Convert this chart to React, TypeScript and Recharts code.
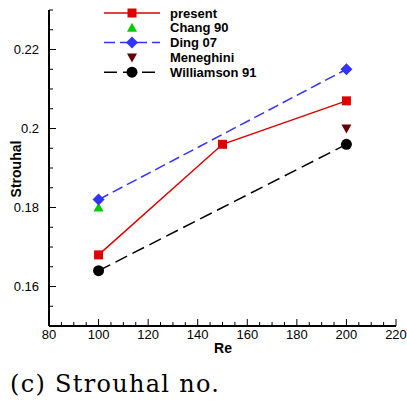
import React from "react";
import { LineChart, Line, XAxis, YAxis, Label } from "recharts";

// Strouhal number vs Reynolds number
const presentRe = [100, 150, 200];
const presentSt = [0.168, 0.196, 0.207];
const changRe = [100];
const changSt = [0.18];
const dingRe = [100, 200];
const dingSt = [0.182, 0.215];
const meneghiniRe = [200];
const meneghiniSt = [0.2];
const williamsonRe = [100, 200];
const williamsonSt = [0.164, 0.196];

const xTicks = [80, 85, 90, 95, 100, 105, 110, 115, 120, 125, 130, 135, 140, 145, 150, 155, 160, 165, 170, 175, 180, 185, 190, 195, 200, 205, 210, 215, 220];
const xMajor = [80, 100, 120, 140, 160, 180, 200, 220];
const yTicks = [0.15, 0.155, 0.16, 0.165, 0.17, 0.175, 0.18, 0.185, 0.19, 0.195, 0.2, 0.205, 0.21, 0.215, 0.22, 0.225, 0.23];
const yMajor = [0.16, 0.18, 0.2, 0.22];
const yLabels: Record<string, string> = { "0.16": "0.16", "0.18": "0.18", "0.2": "0.2", "0.22": "0.22" };

const toRows = (re: number[], st: number[]) => re.map((r, i) => ({ re: r, st: st[i] }));

type Shape = "square" | "triUp" | "diamond" | "triDown" | "circle";

const SERIES: { name: string; rows: { re: number; st: number }[]; color: string; shape: Shape; dash?: string; line: boolean }[] = [
    { name: "present", rows: toRows(presentRe, presentSt), color: "#dd0000", shape: "square", line: true },
    { name: "Chang 90", rows: toRows(changRe, changSt), color: "#00cc00", shape: "triUp", line: false },
    { name: "Ding 07", rows: toRows(dingRe, dingSt), color: "#3333ff", shape: "diamond", dash: "11 5", line: true },
    { name: "Meneghini", rows: toRows(meneghiniRe, meneghiniSt), color: "#660000", shape: "triDown", line: false },
    { name: "Williamson 91", rows: toRows(williamsonRe, williamsonSt), color: "#000000", shape: "circle", dash: "13 6", line: true },
];

function Marker({ cx, cy, shape, color }: { cx: number; cy: number; shape: Shape; color: string }) {
    if (shape === "square") return <rect x={cx - 4.5} y={cy - 4.5} width={9} height={9} fill={color} />;
    if (shape === "circle") return <circle cx={cx} cy={cy} r={5.5} fill={color} />;
    if (shape === "diamond")
        return <polygon points={`${cx},${cy - 6} ${cx + 6},${cy} ${cx},${cy + 6} ${cx - 6},${cy}`} fill={color} />;
    if (shape === "triUp")
        return <polygon points={`${cx},${cy - 5} ${cx + 5},${cy + 4} ${cx - 5},${cy + 4}`} fill={color} />;
    return <polygon points={`${cx - 5},${cy - 4} ${cx + 5},${cy - 4} ${cx},${cy + 5}`} fill={color} />;
}

const TICK_FONT = { fontFamily: "'Liberation Sans', Arial, sans-serif", fontSize: 13, fill: "#000" };

function YTick(props: any) {
    const { x, y, payload } = props;
    const v = Number(payload.value.toFixed(3));
    const major = yMajor.some((m) => Math.abs(m - v) < 1e-6);
    const ax = x + 8;
    return (
        <g>
            <line x1={ax} y1={y} x2={ax + (major ? 7 : 4)} y2={y} stroke="#000" strokeWidth={1} />
            {major && (
                <text x={x - 2} y={y} dy="0.35em" textAnchor="end" {...TICK_FONT}>
                    {yLabels[String(v)]}
                </text>
            )}
        </g>
    );
}

function XTick(props: any) {
    const { x, y, payload } = props;
    const v = payload.value;
    const major = xMajor.includes(v);
    const ay = y - 4;
    return (
        <g>
            <line x1={x} y1={ay} x2={x} y2={ay - (major ? 7 : 4)} stroke="#000" strokeWidth={1} />
            {major && (
                <text x={x} y={y} dy="0.71em" textAnchor="middle" {...TICK_FONT}>
                    {v}
                </text>
            )}
        </g>
    );
}

function LegendBox() {
    return (
        <svg width={200} height={80} style={{ position: "absolute", left: 104, top: 5 }}>
            {SERIES.map((s, i) => {
                const cy = 8 + i * 14.8;
                return (
                    <g key={s.name}>
                        {s.line && (
                            <line x1={0} y1={cy} x2={56} y2={cy} stroke={s.color} strokeWidth={1.5} strokeDasharray={s.dash} />
                        )}
                        <Marker cx={28} cy={cy} shape={s.shape} color={s.color} />
                        <text
                            x={66}
                            y={cy}
                            dy="0.36em"
                            fontFamily="'Liberation Sans', Arial, sans-serif"
                            fontWeight="bold"
                            fontSize={13}
                            fill="#000"
                        >
                            {s.name}
                        </text>
                    </g>
                );
            })}
        </svg>
    );
}

export default function App() {
    return (
        <div style={{ position: "absolute", left: 0, top: 0, width: 407, height: 412, background: "#fff" }}>
            <LineChart width={407} height={412} margin={{ top: 10, right: 11, bottom: 56, left: 0 }}>
                <XAxis
                    type="number"
                    dataKey="re"
                    domain={[80, 220]}
                    ticks={xTicks}
                    interval={0}
                    allowDataOverflow
                    tickLine={false}
                    tickSize={0}
                    tickMargin={4}
                    tick={<XTick />}
                    axisLine={{ stroke: "#000", strokeWidth: 2 }}
                    height={30}
                >
                    <Label
                        content={() => (
                            <text x={223} y={353} textAnchor="middle" fontFamily="'Liberation Sans', Arial, sans-serif" fontWeight="bold" fontSize={14}>
                                Re
                            </text>
                        )}
                    />
                </XAxis>
                <YAxis
                    type="number"
                    dataKey="st"
                    domain={[0.15, 0.23]}
                    ticks={yTicks}
                    interval={0}
                    allowDataOverflow
                    tickLine={false}
                    tickSize={0}
                    tickMargin={8}
                    tick={<YTick />}
                    axisLine={{ stroke: "#000", strokeWidth: 2 }}
                    width={49}
                >
                    <Label
                        content={() => (
                            <text
                                x={21}
                                y={169}
                                transform="rotate(-90 21 169)"
                                textAnchor="middle"
                                fontFamily="'Liberation Sans', Arial, sans-serif"
                                fontWeight="bold"
                                fontSize={14}
                            >
                                Strouhal
                            </text>
                        )}
                    />
                </YAxis>
                {SERIES.map((s) => (
                    <Line
                        key={s.name}
                        data={s.rows}
                        dataKey="st"
                        name={s.name}
                        stroke={s.line ? s.color : "none"}
                        strokeWidth={1.5}
                        strokeDasharray={s.dash}
                        isAnimationActive={false}
                        dot={(p: any) => <Marker key={`${s.name}-${p.index}`} cx={p.cx} cy={p.cy} shape={s.shape} color={s.color} />}
                        activeDot={false}
                    />
                ))}
            </LineChart>
            <LegendBox />
            <div
                style={{
                    position: "absolute",
                    left: 10,
                    top: 370,
                    fontFamily: "'DejaVu Serif', serif",
                    fontSize: 24,
                    letterSpacing: 1.3,
                    color: "#000",
                    whiteSpace: "nowrap",
                }}
            >
                (c) Strouhal no.
            </div>
        </div>
    );
}
